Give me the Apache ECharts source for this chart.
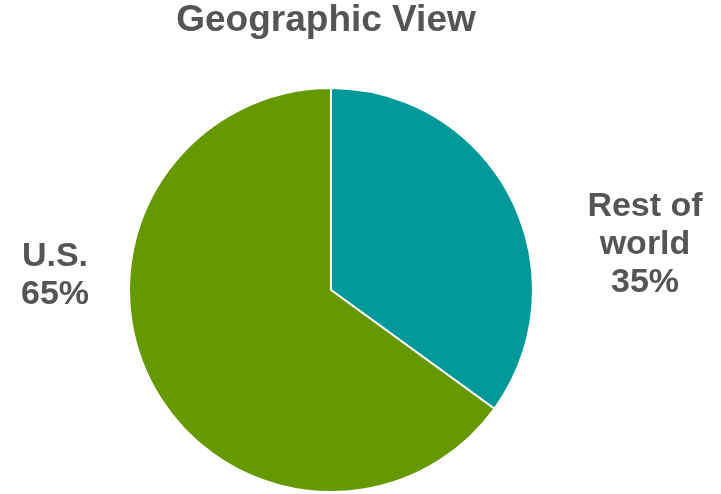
<!DOCTYPE html>
<html>
<head>
<meta charset="utf-8">
<script src="https://cdn.jsdelivr.net/npm/echarts@6/dist/echarts.min.js"></script>
<style>html,body{margin:0;padding:0;background:#fff}#c{width:721px;height:494px}</style>
</head>
<body>
<div id="c"></div>
<script>
const categories = ['Rest of world', 'U.S.'];
const values = [35, 65];
const labelText = ['Rest of\nworld', 'U.S.'];
const colors = ['#009999', '#669900'];

const chart = echarts.init(document.getElementById('c'));
chart.setOption({
  animation: false,
  title: {
    text: 'Geographic View',
    left: 321,
    top: -3,
    textAlign: 'center',
    textStyle: { fontFamily: 'Liberation Sans, Arial, sans-serif', fontSize: 37, fontWeight: 'bold', color: '#555555' }
  },
  series: [{
    type: 'pie',
    center: [331, 290],
    radius: [0, 202],
    startAngle: 90,
    clockwise: true,
    data: categories.map((c, i) => ({ name: c, value: values[i], itemStyle: { color: colors[i] } })),
    itemStyle: { borderColor: '#fff', borderWidth: 2 },
    label: {
      show: true,
      position: 'outside',
      formatter: p => labelText[p.dataIndex] + '\n' + p.value + '%',
      fontFamily: 'Liberation Sans, Arial, sans-serif',
      fontSize: 34,
      fontWeight: 'bold',
      color: '#555555',
      lineHeight: 38,
      align: 'center'
    },
    labelLine: { show: false },
    labelLayout: p => p.dataIndex === 0
      ? { x: 645, y: 245, align: 'center', verticalAlign: 'middle' }
      : { x: 55, y: 276, align: 'center', verticalAlign: 'middle' }
  }]
});
</script>
</body>
</html>
